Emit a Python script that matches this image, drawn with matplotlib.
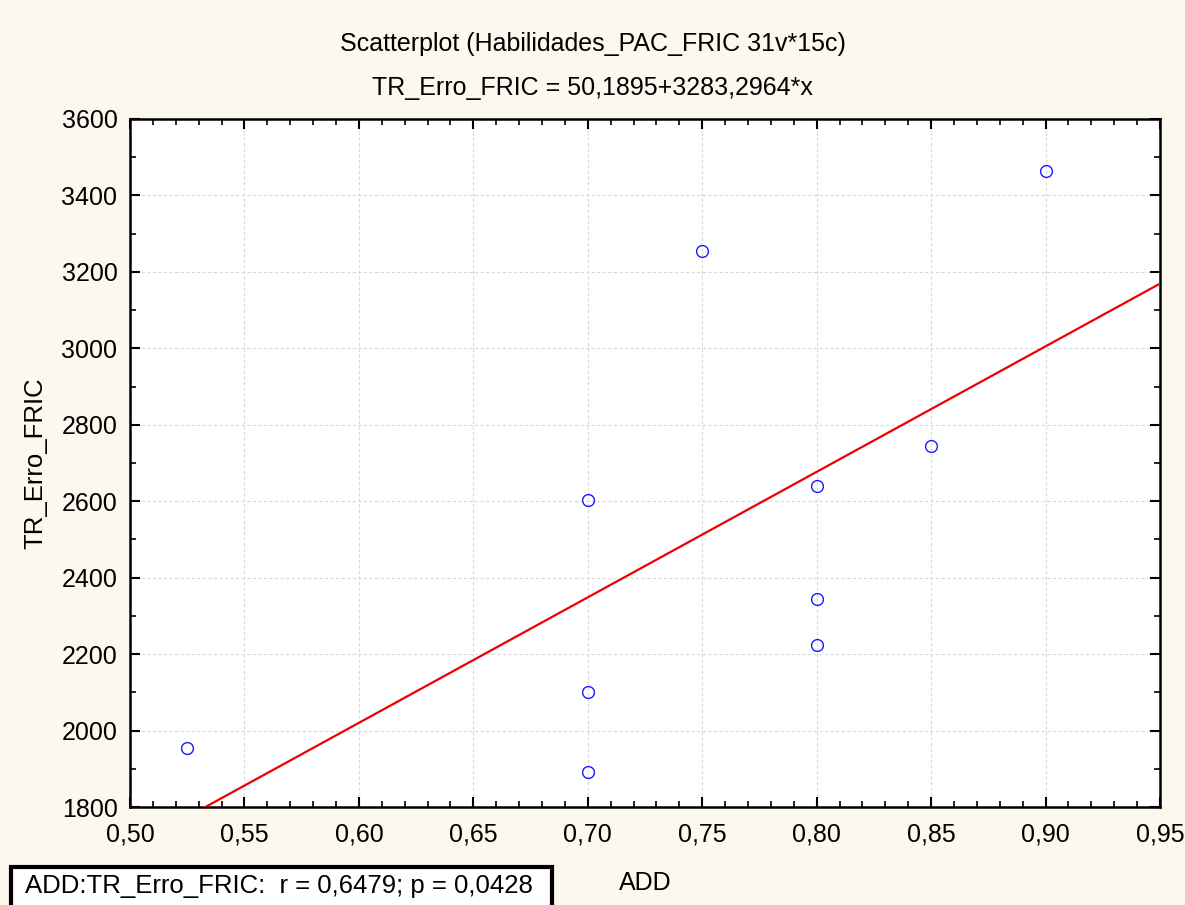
import matplotlib
matplotlib.use("Agg")
import matplotlib.pyplot as plt
import numpy as np
from matplotlib.ticker import MultipleLocator, FuncFormatter
from matplotlib.patches import Rectangle

plt.rcParams["font.family"] = ["Liberation Sans", "DejaVu Sans"]

# data
add_vals = [0.525, 0.70, 0.70, 0.70, 0.75, 0.80, 0.80, 0.80, 0.85, 0.90]
tr_erro = [1955, 1892, 2101, 2604, 3255, 2640, 2345, 2224, 2745, 3465]
intercept = 50.1895
slope = 3283.2964

BG = "#FCF8EE"

fig = plt.figure(figsize=(11.85, 9.05), dpi=100, facecolor=BG)
ax = fig.add_axes([130 / 1185, 98 / 905, 1030 / 1185, 688 / 905])
ax.set_facecolor("white")

ax.plot(add_vals, tr_erro, "o", mfc="none", mec="#1a1aff", ms=8.5, mew=1.0,
        zorder=4, clip_on=False)

xs = np.array([0.50, 0.95])
ax.plot(xs, intercept + slope * xs, color="#ee0000", lw=1.6, zorder=3)

ax.set_xlim(0.50, 0.95)
ax.set_ylim(1800, 3600)
ax.xaxis.set_major_locator(MultipleLocator(0.05))
ax.xaxis.set_minor_locator(MultipleLocator(0.01))
ax.yaxis.set_major_locator(MultipleLocator(200))
ax.yaxis.set_minor_locator(MultipleLocator(100))
ax.xaxis.set_major_formatter(FuncFormatter(lambda v, p: f"{v:.2f}".replace(".", ",")))
ax.yaxis.set_major_formatter(FuncFormatter(lambda v, p: f"{v:.0f}"))

ax.tick_params(which="both", direction="in", top=True, right=True,
               colors="black", labelsize=18)
ax.tick_params(which="major", length=7, width=1.5)
ax.tick_params(which="minor", length=4, width=1.2)
ax.tick_params(axis="x", which="major", pad=11)
ax.tick_params(axis="y", which="major", pad=9)
for s in ax.spines.values():
    s.set_linewidth(1.8)

ax.grid(True, which="major", color="#dadada", linestyle=(0, (3, 2)), lw=0.8)
ax.set_axisbelow(True)

ax.set_ylabel("TR_Erro_FRIC", fontsize=18.5, labelpad=10)
fig.text(645 / 1185, 1 - 883 / 905, "ADD", fontsize=18, ha="center", va="center")

fig.text(0.5, 1 - 44 / 905, "Scatterplot (Habilidades_PAC_FRIC 31v*15c)",
         fontsize=18, ha="center", va="center")
fig.text(0.5, 1 - 88 / 905, "TR_Erro_FRIC = 50,1895+3283,2964*x",
         fontsize=18, ha="center", va="center")

fig.patches.append(Rectangle((11 / 1185, -0.02), 541 / 1185, 0.02 + 38 / 905,
                             transform=fig.transFigure, fc="white", ec="black",
                             lw=3, zorder=5))
fig.text(25 / 1185, 1 - 886 / 905, "ADD:TR_Erro_FRIC:  r = 0,6479; p = 0,0428",
         fontsize=18.5, ha="left", va="center", zorder=6)

fig.savefig("out.png", dpi=100, facecolor=BG)
